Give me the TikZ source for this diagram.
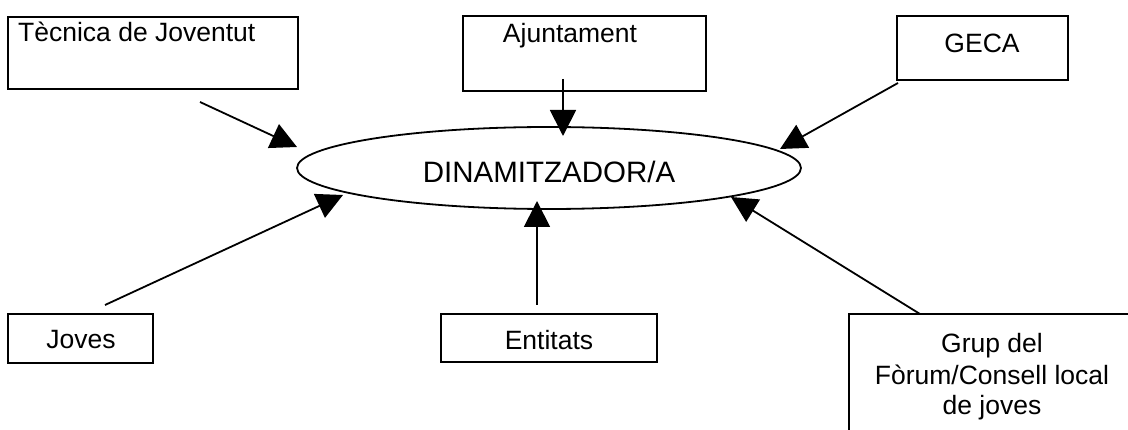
\documentclass[tikz,border=0pt]{standalone}
\usepackage{fontspec}
\setmainfont{Liberation Sans}
\usetikzlibrary{shapes.geometric,arrows.meta}
\begin{document}
\begin{tikzpicture}[x=1pt,y=-1pt,
  box/.style={draw,line width=1.8pt,inner sep=0pt,rectangle},
  lbl/.style={anchor=base,inner sep=0pt,font=\fontsize{26.5}{31}\selectfont},
  conn/.style={line width=1.8pt,-{Triangle[length=26pt,width=26pt]}}]
\useasboundingbox (0,0) rectangle (1128,430);
\fill[white] (0,0) rectangle (1128,430);
\begin{scope}
\clip (0,0) rectangle (1128,430);
% boxes
\node[box,minimum width=290pt,minimum height=72pt] (tec) at (153,53) {};
\node[box,minimum width=243pt,minimum height=75pt] (aju) at (584.5,53.5) {};
\node[box,minimum width=171pt,minimum height=64pt] (geca) at (982.5,48) {};
\node[box,minimum width=145pt,minimum height=49pt] (jov) at (80.5,338.5) {};
\node[box,minimum width=216pt,minimum height=48pt] (ent) at (549,338) {};
\node[box,minimum width=286pt,minimum height=146pt] (grp) at (992,387) {};
% ellipse
\node[draw,ellipse,line width=1.8pt,inner sep=0pt,minimum width=504pt,minimum height=82pt] (din) at (549,168) {};
% texts
\node[lbl,anchor=base west] (tecT) at (18,42) {Tècnica de Joventut};
\node[lbl] (ajuT) at (570,43) {Ajuntament};
\node[lbl] (gecaT) at (982,53) {GECA};
\node[lbl] (jovT) at (81,349) {Joves};
\node[lbl] (entT) at (549,350) {Entitats};
\node[lbl] (grpT1) at (992,353) {Grup del};
\node[lbl] (grpT2) at (992,385) {Fòrum/Consell local};
\node[lbl] (grpT3) at (992,415) {de joves};
\node[anchor=base,inner sep=0pt,font=\fontsize{29.5}{34}\selectfont] (dinT) at (549,183) {DINAMITZADOR/A};
% connector ends
\coordinate (tecS) at (200,102);
\coordinate (tecE) at (297,147);
\coordinate (ajuS) at (563,79);
\coordinate (ajuE) at (563,136);
\coordinate (gecS) at (898,83);
\coordinate (gecE) at (780,149);
\coordinate (jovS) at (105,305);
\coordinate (jovE) at (343,195);
\coordinate (entS) at (537,305);
\coordinate (entE) at (537,201);
\coordinate (grpS) at (920,314);
\coordinate (grpE) at (731,197);
\draw[conn] (tecS) -- (tecE);
\draw[conn] (ajuS) -- (ajuE);
\draw[conn] (gecS) -- (gecE);
\draw[conn] (jovS) -- (jovE);
\draw[conn] (entS) -- (entE);
\draw[conn] (grpS) -- (grpE);
\end{scope}
\end{tikzpicture}
\end{document}
